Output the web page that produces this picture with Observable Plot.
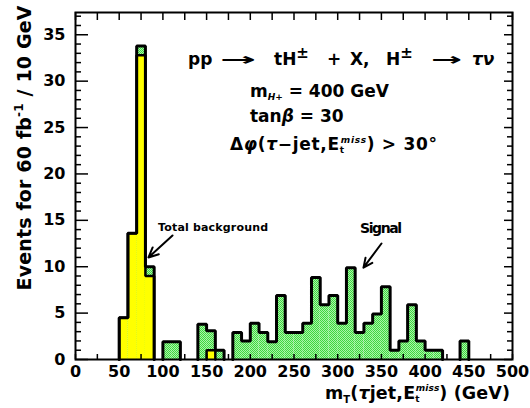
<!DOCTYPE html>
<html><head><meta charset="utf-8">
<script src="https://cdn.jsdelivr.net/npm/d3@7"></script>
<script src="https://cdn.jsdelivr.net/npm/@observablehq/plot@0.6"></script>
<style>body{margin:0;background:#fff}</style>
</head><body><div id="chart"></div>
<script>
// ---- data ----
const binWidth = 10; // GeV
const binLow = [50,60,70,80,90,100,110,120,130,140,150,160,170,180,190,200,210,220,230,240,
                250,260,270,280,290,300,310,320,330,340,350,360,370,380,390,400,410,420,430,440];
// total (signal + background) per bin
const totalCounts = [4.5,13.6,33.8,10.0,0,1.9,1.9,0,0,3.8,3.1,1.0,0,2.9,2.0,3.9,2.9,1.9,6.9,2.9,
                     2.9,3.9,8.85,5.9,6.9,3.9,9.9,2.9,3.9,4.9,7.85,1.0,2.0,5.9,2.0,1.0,1.0,0,0,2.0];
// total background per bin
const backgroundCounts = [4.5,13.6,32.8,9.0,0,0,0,0,0,0,1.0,0,0,0,0,0,0,0,0,0,
                          0,0,0,0,0,0,0,0,0,0,0,0,0,0,0,0,0,0,0,0];
const xTickLabels = [0,50,100,150,200,250,300,350,400,450,500];
const xMinorTicks = [0,25,50,75,100,125,150,175,200,225,250,275,300,325,350,375,400,425,450,475,500];
const yTickLabels = [0,5,10,15,20,25,30,35];
const yMinorTicks = [0,1,2,3,4,5,6,7,8,9,10,11,12,13,14,15,16,17,18,19,20,21,22,23,24,25,26,27,28,29,30,31,32,33,34,35,36,37];

// ---- layout ----
const W = 530, H = 408, mL = 75, mR = 18, mT = 12, mB = 49;
const innerW = W - mL - mR, innerH = H - mT - mB;
const FONT = "DejaVu Sans";

const bins = binLow.map((lo, i) => ({x1: lo, x2: lo + binWidth, total: totalCounts[i], bg: backgroundCounts[i]}));

function outlineRuns(values) {
  const pts = []; let run = -1, inRun = false;
  values.forEach((v, i) => {
    if (v > 0) {
      if (!inRun) { run++; inRun = true; pts.push({x: binLow[i], y: 0, run}); }
      pts.push({x: binLow[i], y: v, run});
      if (i === values.length - 1 || !(values[i + 1] > 0)) {
        pts.push({x: binLow[i] + binWidth, y: 0, run}); inRun = false;
      }
    }
  });
  return pts;
}
const totalOutline = outlineRuns(totalCounts);
const bgOutline = outlineRuns(backgroundCounts);
const yMajorSet = new Set(yTickLabels);

const chart = Plot.plot({
  width: W, height: H,
  marginLeft: mL, marginRight: mR, marginTop: mT, marginBottom: mB,
  style: {fontFamily: FONT, background: "white"},
  x: {domain: [0, 500], label: null},
  y: {domain: [0, 37.4], label: null},
  marks: [
    Plot.rect(bins.filter(d => d.total > 0), {x1: "x1", x2: "x2", y1: d => 0, y2: "total", fill: "url(#greenDots)"}),
    Plot.rect(bins.filter(d => d.bg > 0), {x1: "x1", x2: "x2", y1: d => 0, y2: "bg", fill: "#ffff00"}),
    Plot.line(bgOutline, {x: "x", y: "y", z: "run", curve: "step-after", stroke: "black", strokeWidth: 2.5, strokeLinejoin: "miter"}),
    Plot.line(totalOutline, {x: "x", y: "y", z: "run", curve: "step-after", stroke: "black", strokeWidth: 3, strokeLinejoin: "miter"}),
    // inward ticks
    Plot.ruleX(xMinorTicks, {insetTop: innerH - 5, stroke: "black", strokeWidth: 1.5}),
    Plot.ruleX(xMinorTicks, {insetBottom: innerH - 8, stroke: "black", strokeWidth: 1.5}),
    Plot.ruleY(yMinorTicks.filter(d => !yMajorSet.has(d)), {insetRight: innerW - 6, stroke: "black", strokeWidth: 1.5}),
    Plot.ruleY(yTickLabels, {insetRight: innerW - 13, stroke: "black", strokeWidth: 1.5}),
    Plot.ruleY(yMinorTicks.filter(d => !yMajorSet.has(d)), {insetLeft: innerW - 5, stroke: "black", strokeWidth: 1.5}),
    Plot.ruleY(yTickLabels, {insetLeft: innerW - 8, stroke: "black", strokeWidth: 1.5}),
    Plot.frame({stroke: "black", strokeWidth: 2}),
    Plot.axisX({ticks: xTickLabels, tickSize: 0, tickPadding: 6, fontSize: 16, fontWeight: "bold", label: null, fill: "black"}),
    Plot.axisY({ticks: yTickLabels, tickSize: 0, tickPadding: 10, fontSize: 16, fontWeight: "bold", label: null, fill: "black"}),
    // annotation arrows
    Plot.arrow([{x1: 111.0, y1: 13.36, x2: 83.5, y2: 11.0}], {x1: "x1", y1: "y1", x2: "x2", y2: "y2", stroke: "black", strokeWidth: 2, headLength: 9, headAngle: 50}),
    Plot.arrow([{x1: 350.1, y1: 12.5, x2: 329.5, y2: 9.9}], {x1: "x1", y1: "y1", x2: "x2", y2: "y2", stroke: "black", strokeWidth: 2, headLength: 9, headAngle: 50})
  ]
});
document.getElementById("chart").appendChild(chart);

// pattern for the signal fill
const svg = d3.select(chart);
const defs = svg.insert("defs", ":first-child");
const pat = defs.append("pattern").attr("id", "greenDots").attr("width", 2).attr("height", 2).attr("patternUnits", "userSpaceOnUse");
pat.append("rect").attr("width", 2).attr("height", 2).attr("fill", "#a8f5a8");
pat.append("rect").attr("width", 1).attr("height", 1).attr("fill", "#3fd63f");
pat.append("rect").attr("x", 1).attr("y", 1).attr("width", 1).attr("height", 1).attr("fill", "#3fd63f");

const sx = chart.scale("x"), sy = chart.scale("y");
const X = v => sx.apply(v), Y = v => sy.apply(v);

function richText(x, y, parts, o = {}) {
  const t = svg.append("text")
    .attr("x", x).attr("y", y)
    .attr("font-family", FONT).attr("font-size", o.size || 17)
    .attr("font-weight", o.weight || "bold").attr("fill", "black")
    .attr("text-anchor", o.anchor || "start");
  if (o.length) t.attr("textLength", o.length).attr("lengthAdjust", o.adjust || "spacing");
  if (o.rotate) t.attr("transform", `rotate(-90 ${x} ${y})`);
  for (const p of parts) {
    const ts = t.append("tspan").text(p.t);
    if (p.size) ts.attr("font-size", p.size);
    if (p.dy) ts.attr("dy", p.dy);
    if (p.dx) ts.attr("dx", p.dx);
    if (p.italic) ts.attr("font-style", "italic");
  }
  return t;
}

// line 1: pp -> tH± + X, H± -> τν
const yl1 = Y(31.7);
richText(X(129.3), yl1, [{t: "pp"}]);
richText(X(165.9), yl1, [{t: "→"}], {length: 36, adjust: "spacingAndGlyphs"});
richText(X(227.7), yl1, [{t: "tH"}, {t: "±", size: 15, dy: -7}]);
richText(X(288.3), yl1, [{t: "+"}]);
richText(X(314.6), yl1, [{t: "X,"}]);
richText(X(355.8), yl1, [{t: "H"}, {t: "±", size: 15, dy: -7}]);
richText(X(407.3), yl1, [{t: "→"}], {length: 31, adjust: "spacingAndGlyphs"});
richText(X(454.2), yl1, [{t: "τν", italic: true}]);
// line 2
richText(X(200.2), Y(28.2), [{t: "m"}, {t: "H+", size: 9, dy: 3, italic: true}, {t: " = 400 GeV", dy: -3}]);
// line 3
richText(X(200.2), Y(25.5), [{t: "tan"}, {t: "β", italic: true}, {t: " = 30"}]);
// line 4
richText(X(177.3), Y(22.5), [{t: "Δ"}, {t: "φ", italic: true}, {t: "("}, {t: "τ", italic: true}, {t: "−jet,E"},
  {t: "t", size: 9, dy: 3}, {t: "miss", size: 9, italic: true, dx: -4, dy: -10}, {t: ") > 30°", dy: 7}], {length: 207});
// labels
richText(X(95), Y(13.8), [{t: "Total background"}], {size: 11, length: 110});
richText(X(326.1), Y(13.6), [{t: "Signal"}], {size: 14, length: 42});

// axis titles
richText(31, 148, [{t: "Events for 60 fb"}, {t: "-1", size: 12, dy: -8}, {t: " / 10 GeV", dy: 8}], {size: 19, anchor: "middle", rotate: true, length: 285});
richText(325, 399, [{t: "m"}, {t: "T", size: 10, dy: 4}, {t: "(", dy: -4}, {t: "τ", italic: true}, {t: "jet,E"},
  {t: "t", size: 9, dy: 3}, {t: "miss", size: 9, italic: true, dx: -4, dy: -11}, {t: ") (GeV)", dy: 8}], {size: 17.5, length: 185});
</script>
</body></html>
